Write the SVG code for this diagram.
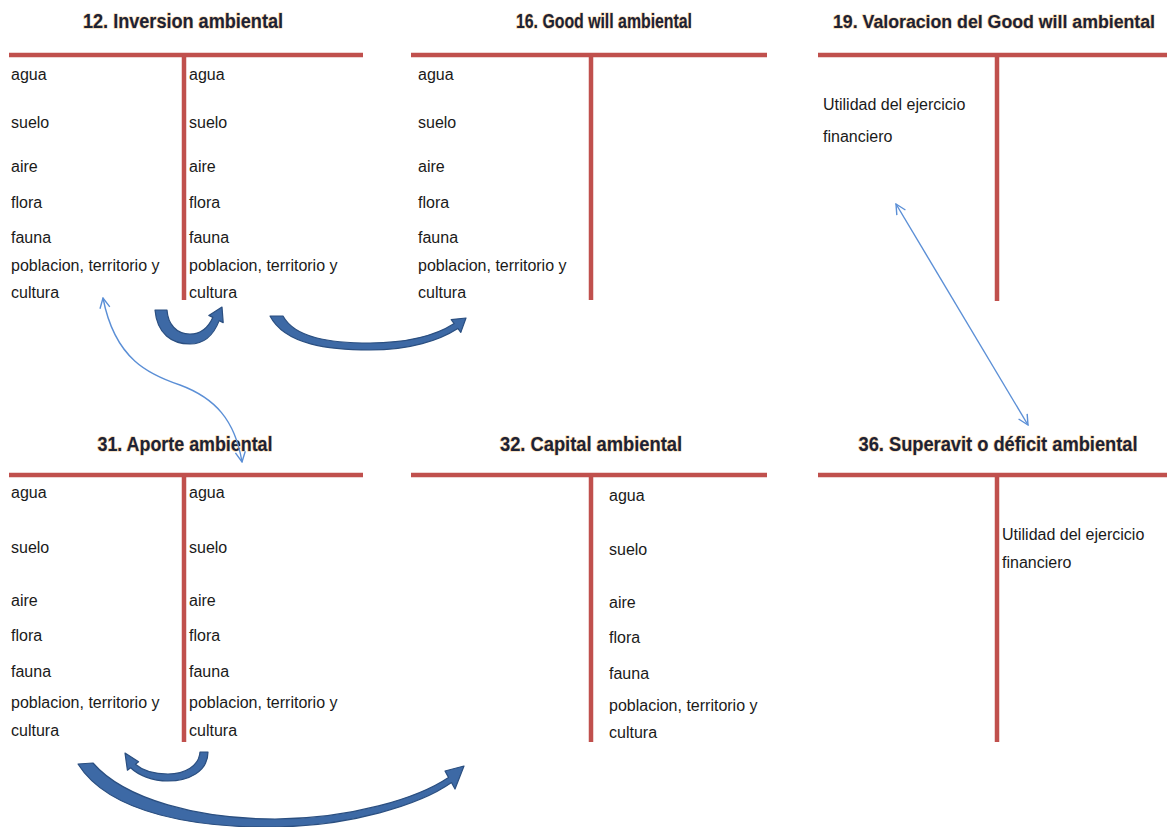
<svg xmlns="http://www.w3.org/2000/svg" width="1167" height="827" viewBox="0 0 1167 827">
<defs>
<style>
.bg{fill:#ffffff}
.ln{stroke:#c0504d;stroke-width:4.5;fill:none}
.ttl{font-family:"Liberation Sans Narrow","Liberation Sans",Arial,sans-serif;font-weight:bold;font-size:20px;fill:#1c2236;stroke:#f3cf9a;stroke-width:1.2;paint-order:stroke;text-anchor:middle}
.tx{font-family:"Liberation Sans",Arial,sans-serif;font-size:16px;fill:#1a1a1a}
.thick{fill:#3d69a5;stroke:#2b4f80;stroke-width:1.2;stroke-linejoin:round}
.thin{fill:none;stroke:#5b8fd6;stroke-width:1.4}
</style>
<marker id="vh" viewBox="0 0 12 12" refX="11" refY="6" markerWidth="12" markerHeight="12" markerUnits="userSpaceOnUse" orient="auto-start-reverse">
<path d="M1,1 L11,6 L1,11" fill="none" stroke="#5b8fd6" stroke-width="1.4"/>
</marker>
</defs>
<rect class="bg" x="0" y="0" width="1167" height="827"/>

<g id="node-12">
<text class="ttl" x="183" y="28" textLength="200" lengthAdjust="spacingAndGlyphs">12. Inversion ambiental</text>
<line class="ln" x1="9" y1="55" x2="363" y2="55"/>
<line class="ln" x1="184" y1="55" x2="184" y2="300"/>
<g class="tx">
<text x="11" y="80">agua</text><text x="11" y="128">suelo</text><text x="11" y="172">aire</text><text x="11" y="208">flora</text><text x="11" y="243">fauna</text><text x="11" y="271">poblacion, territorio y</text><text x="11" y="298">cultura</text>
<text x="189" y="80">agua</text><text x="189" y="128">suelo</text><text x="189" y="172">aire</text><text x="189" y="208">flora</text><text x="189" y="243">fauna</text><text x="189" y="271">poblacion, territorio y</text><text x="189" y="298">cultura</text>
</g>
</g>

<g id="node-16">
<text class="ttl" x="604" y="28" textLength="176" lengthAdjust="spacingAndGlyphs">16. Good will ambiental</text>
<line class="ln" x1="411" y1="55" x2="767" y2="55"/>
<line class="ln" x1="591" y1="55" x2="591" y2="300"/>
<g class="tx">
<text x="418" y="80">agua</text><text x="418" y="128">suelo</text><text x="418" y="172">aire</text><text x="418" y="208">flora</text><text x="418" y="243">fauna</text><text x="418" y="271">poblacion, territorio y</text><text x="418" y="298">cultura</text>
</g>
</g>

<g id="node-19">
<text class="ttl" x="994" y="28" textLength="322" lengthAdjust="spacingAndGlyphs" style="font-size:18px">19. Valoracion del Good will ambiental</text>
<line class="ln" x1="818" y1="55" x2="1167" y2="55"/>
<line class="ln" x1="997" y1="55" x2="997" y2="301"/>
<g class="tx">
<text x="823" y="110">Utilidad del ejercicio</text><text x="823" y="142">financiero</text>
</g>
</g>

<g id="node-31">
<text class="ttl" x="185" y="451" textLength="175" lengthAdjust="spacingAndGlyphs">31. Aporte ambiental</text>
<line class="ln" x1="9" y1="475" x2="363" y2="475"/>
<line class="ln" x1="184" y1="475" x2="184" y2="742"/>
<g class="tx">
<text x="11" y="498">agua</text><text x="11" y="553">suelo</text><text x="11" y="606">aire</text><text x="11" y="641">flora</text><text x="11" y="677">fauna</text><text x="11" y="708">poblacion, territorio y</text><text x="11" y="736">cultura</text>
<text x="189" y="498">agua</text><text x="189" y="553">suelo</text><text x="189" y="606">aire</text><text x="189" y="641">flora</text><text x="189" y="677">fauna</text><text x="189" y="708">poblacion, territorio y</text><text x="189" y="736">cultura</text>
</g>
</g>

<g id="node-32">
<text class="ttl" x="591" y="451" textLength="182" lengthAdjust="spacingAndGlyphs">32. Capital ambiental</text>
<line class="ln" x1="411" y1="475" x2="767" y2="475"/>
<line class="ln" x1="591" y1="475" x2="591" y2="742"/>
<g class="tx">
<text x="609" y="501">agua</text><text x="609" y="555">suelo</text><text x="609" y="608">aire</text><text x="609" y="643">flora</text><text x="609" y="679">fauna</text><text x="609" y="711">poblacion, territorio y</text><text x="609" y="738">cultura</text>
</g>
</g>

<g id="node-36">
<text class="ttl" x="998" y="451" textLength="279" lengthAdjust="spacingAndGlyphs">36. Superavit o déficit ambiental</text>
<line class="ln" x1="818" y1="475" x2="1167" y2="475"/>
<line class="ln" x1="997" y1="475" x2="997" y2="742"/>
<g class="tx">
<text x="1002" y="540">Utilidad del ejercicio</text><text x="1002" y="568">financiero</text>
</g>
</g>

<g id="connectors">
<path class="thick" d="M155,310 C157,334 172,344 190,344 C205,344 214,334 219.2,320.6 L223.2,322.6 L222,307 L208.8,315.4 L212.8,317.4 C208,328 200,334 190,334 C176,334 168,324 167,310 Z"/>
<path class="thick" d="M270,316 C285,345 330,350 370,350 C410,350 440,340 457.8,328.4 L460.8,332.4 L466,318 L451.2,319.6 L454.2,323.6 C435,336 405,343 370,343 C330,343 295,338 283,316 Z"/>
<path class="thick" d="M208,752 C208,772 188,781 168,781 C152,781 138,775 130.6,767.8 L127.4,770.2 L125,753 L138.6,761.8 L135.4,764.2 C142,770 154,774 168,774 C185,774 199,766 200,752 Z"/>
<path class="thick" d="M78,764 C110,815 200,828 275,827 C350,826 420,805 451.5,782.6 L455,789 L464,766 L445,771 L448.5,777.4 C418,798 350,819 275,819 C200,819 125,800 93,763 Z"/>
<path class="thin" marker-start="url(#vh)" marker-end="url(#vh)" d="M103,298 C115,360 150,375 180,385 C215,398 235,420 242,462"/>
<line class="thin" marker-start="url(#vh)" marker-end="url(#vh)" x1="896" y1="204" x2="1028" y2="425"/>
</g>
</svg>
